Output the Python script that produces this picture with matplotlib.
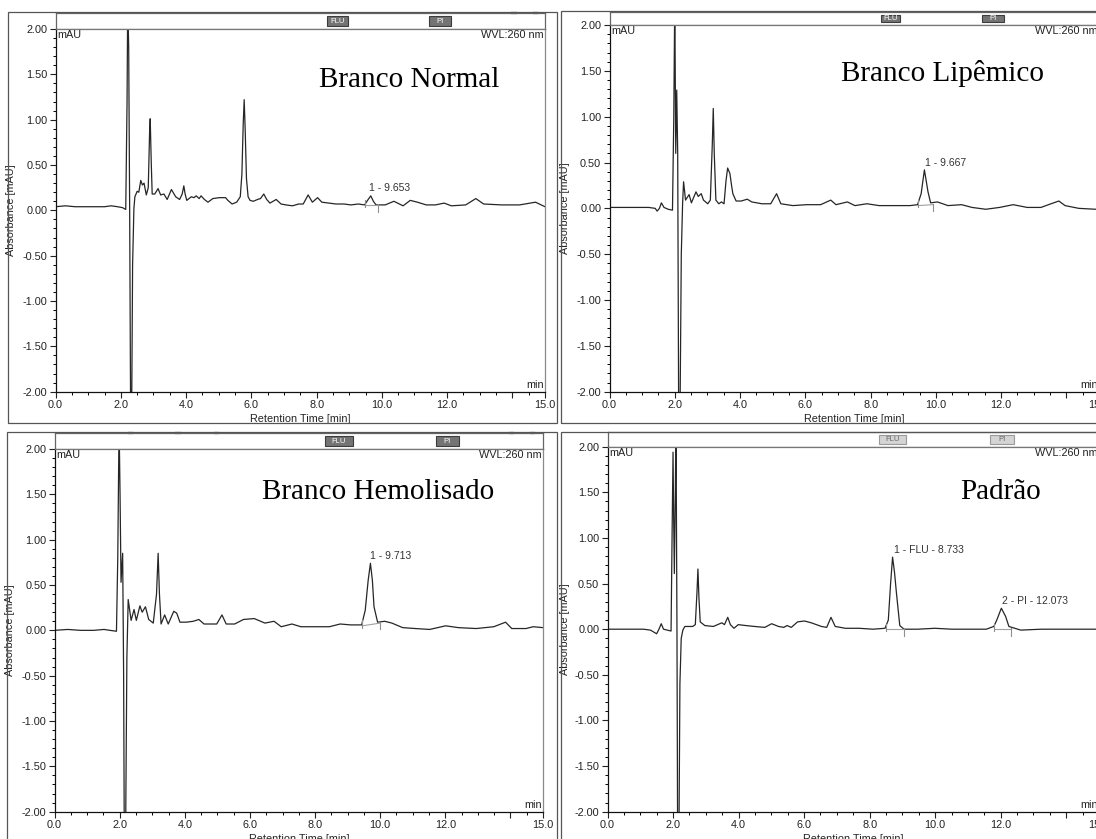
import matplotlib
matplotlib.use("Agg")
import matplotlib.pyplot as plt
from matplotlib.patches import Rectangle
from matplotlib.ticker import MultipleLocator, FormatStrFormatter

plt.rcParams['axes.unicode_minus'] = False
SANS = ['Liberation Sans Narrow', 'Liberation Sans', 'DejaVu Sans']
SERIF = ['Liberation Serif', 'DejaVu Serif']

W, H = 1096, 839

# ---- data (time [min], absorbance [mAU]) ----
t_normal = [0.0, 0.3, 0.6, 0.9, 1.2, 1.5, 1.7, 1.9, 2.05, 2.15, 2.19, 2.21, 2.24, 2.27, 2.30, 2.33, 2.36,
            2.40, 2.43, 2.50, 2.55, 2.61, 2.66, 2.71, 2.78, 2.84, 2.88, 2.90, 2.93, 2.96, 3.04, 3.14,
            3.22, 3.32, 3.42, 3.55, 3.68, 3.80, 3.88, 3.93, 3.97, 4.02, 4.16, 4.24, 4.31, 4.40, 4.46,
            4.56, 4.67, 4.82, 5.02, 5.21, 5.28, 5.41, 5.55, 5.66, 5.71, 5.75, 5.78, 5.81, 5.85, 5.90,
            5.96, 6.06, 6.19, 6.28, 6.38, 6.47, 6.57, 6.76, 6.91, 7.06, 7.26, 7.45, 7.59, 7.74, 7.87,
            8.03, 8.16, 8.38, 8.59, 8.84, 9.05, 9.28, 9.47, 9.58, 9.66, 9.74, 9.82, 10.1, 10.37, 10.65,
            10.87, 11.09, 11.36, 11.64, 11.91, 12.13, 12.57, 12.88, 13.12, 13.67, 14.22, 14.71, 15.0]
a_normal = [0.04, 0.05, 0.04, 0.04, 0.04, 0.04, 0.05, 0.04, 0.03, 0.01, 1.2, 2.3, 1.8, 0.0, -2.3, -2.3, -0.6,
            0.02, 0.15, 0.21, 0.20, 0.33, 0.28, 0.30, 0.17, 0.25, 0.85, 1.01, 0.55, 0.18, 0.18, 0.24,
            0.17, 0.18, 0.12, 0.23, 0.15, 0.12, 0.18, 0.27, 0.18, 0.11, 0.15, 0.14, 0.16, 0.13, 0.16,
            0.12, 0.09, 0.13, 0.14, 0.14, 0.11, 0.07, 0.09, 0.15, 0.40, 0.95, 1.22, 0.90, 0.35, 0.15,
            0.11, 0.10, 0.12, 0.13, 0.18, 0.12, 0.08, 0.12, 0.07, 0.06, 0.05, 0.07, 0.07, 0.17, 0.09,
            0.14, 0.09, 0.08, 0.07, 0.07, 0.06, 0.07, 0.06, 0.12, 0.16, 0.10, 0.06, 0.06, 0.10, 0.05,
            0.11, 0.09, 0.06, 0.06, 0.08, 0.05, 0.06, 0.13, 0.07, 0.06, 0.06, 0.09, 0.04]

t_lipemico = [0.0, 0.4, 0.8, 1.2, 1.40, 1.46, 1.53, 1.59, 1.67, 1.80, 1.93, 1.97, 2.00, 2.03, 2.06, 2.09,
              2.12, 2.16, 2.20, 2.24, 2.27, 2.33, 2.44, 2.51, 2.65, 2.72, 2.81, 2.88, 3.01, 3.09, 3.15,
              3.18, 3.21, 3.26, 3.35, 3.43, 3.51, 3.57, 3.62, 3.69, 3.74, 3.78, 3.88, 4.04, 4.22, 4.36,
              4.67, 4.94, 5.12, 5.25, 5.62, 6.04, 6.47, 6.78, 6.94, 7.29, 7.52, 7.89, 8.26, 8.79, 9.21,
              9.44, 9.55, 9.65, 9.76, 9.84, 10.05, 10.37, 10.79, 11.11, 11.53, 11.95, 12.37, 12.80,
              13.22, 13.53, 13.77, 13.96, 14.38, 14.9, 15.0]
a_lipemico = [0.01, 0.01, 0.01, 0.01, 0.00, -0.03, 0.00, 0.06, 0.01, -0.01, -0.02, 1.0, 2.3, 0.60, 1.29, 0.6,
              -2.3, -2.3, -0.5, 0.05, 0.29, 0.09, 0.15, 0.06, 0.18, 0.13, 0.16, 0.09, 0.05, 0.09, 0.7,
              1.09, 0.6, 0.09, 0.05, 0.07, 0.05, 0.30, 0.44, 0.38, 0.25, 0.16, 0.08, 0.08, 0.10, 0.07,
              0.05, 0.05, 0.16, 0.05, 0.03, 0.04, 0.04, 0.09, 0.04, 0.07, 0.03, 0.05, 0.03, 0.03, 0.03,
              0.04, 0.16, 0.42, 0.18, 0.06, 0.07, 0.03, 0.04, 0.01, -0.01, 0.01, 0.04, 0.01,
              0.01, 0.05, 0.08, 0.03, 0.00, -0.01, 0.00]

t_hemo = [0.0, 0.4, 0.8, 1.2, 1.52, 1.70, 1.90, 1.94, 1.98, 2.01, 2.04, 2.09, 2.12, 2.14, 2.18, 2.22, 2.26,
          2.35, 2.44, 2.51, 2.62, 2.69, 2.79, 2.89, 3.03, 3.13, 3.18, 3.22, 3.27, 3.38, 3.49, 3.66, 3.75,
          3.85, 4.04, 4.26, 4.43, 4.59, 4.98, 5.14, 5.27, 5.53, 5.80, 6.13, 6.46, 6.74, 6.96, 7.29, 7.56,
          8.00, 8.44, 8.77, 9.10, 9.43, 9.54, 9.63, 9.70, 9.76, 9.81, 9.92, 10.14, 10.36, 10.69, 11.08,
          11.52, 12.01, 12.40, 12.95, 13.49, 13.85, 14.04, 14.48, 14.70, 15.0]
a_hemo = [0.00, 0.01, 0.00, 0.00, 0.01, 0.00, -0.01, 0.8, 2.3, 1.5, 0.53, 0.85, -0.5, -2.3, -2.3, -0.3, 0.34,
          0.11, 0.23, 0.11, 0.27, 0.20, 0.26, 0.12, 0.08, 0.40, 0.85, 0.40, 0.07, 0.17, 0.07, 0.21, 0.19,
          0.09, 0.09, 0.10, 0.12, 0.07, 0.07, 0.17, 0.07, 0.07, 0.12, 0.13, 0.08, 0.10, 0.04, 0.07, 0.04,
          0.04, 0.04, 0.07, 0.06, 0.06, 0.22, 0.55, 0.74, 0.55, 0.26, 0.09, 0.10, 0.08, 0.03, 0.02,
          0.01, 0.05, 0.03, 0.02, 0.04, 0.09, 0.02, 0.02, 0.04, 0.03]

t_padrao = [0.0, 0.4, 0.8, 1.1, 1.31, 1.50, 1.57, 1.64, 1.71, 1.94, 1.97, 2.00, 2.02, 2.04, 2.07, 2.09, 2.12,
            2.14, 2.18, 2.21, 2.25, 2.30, 2.36, 2.46, 2.60, 2.68, 2.73, 2.76, 2.79, 2.83, 2.97, 3.23, 3.49,
            3.57, 3.67, 3.75, 3.86, 3.99, 4.22, 4.49, 4.80, 5.01, 5.22, 5.38, 5.48, 5.61, 5.80, 6.01, 6.22,
            6.53, 6.69, 6.82, 6.95, 7.26, 7.68, 8.10, 8.47, 8.57, 8.64, 8.70, 8.76, 8.82, 8.92, 9.05, 9.47,
            9.99, 10.51, 11.14, 11.56, 11.79, 11.88, 12.02, 12.15, 12.25, 12.61, 13.24, 13.87, 14.50, 15.0]
a_padrao = [0.00, 0.00, 0.00, 0.00, -0.01, -0.05, 0.00, 0.06, 0.00, -0.02, 1.0, 1.94, 1.2, 0.61, 1.5, 2.3, 0.0,
            -2.3, -2.3, -0.6, -0.10, -0.01, 0.03, 0.03, 0.03, 0.05, 0.40, 0.66, 0.35, 0.08, 0.04, 0.03, 0.07,
            0.05, 0.13, 0.05, 0.01, 0.05, 0.04, 0.03, 0.02, 0.06, 0.03, 0.02, 0.04, 0.02, 0.08, 0.09, 0.07,
            0.03, 0.02, 0.13, 0.03, 0.01, 0.01, 0.00, 0.01, 0.10, 0.50, 0.79, 0.62, 0.39, 0.04, 0.00, 0.00,
            0.01, 0.00, 0.00, 0.00, 0.03, 0.10, 0.23, 0.14, 0.03, -0.01, 0.00, 0.00, 0.00, 0.00]

titles = ["Branco Normal", "Branco Lipêmico", "Branco Hemolisado", "Padrão"]

# peak labels: (text, x, y) and integration baselines (x0, y0, x1, y1)
labels_normal = [("1 - 9.653", 9.62, 0.19)]
bases_normal = [(9.47, 0.055, 9.88, 0.055)]
labels_lipemico = [("1 - 9.667", 9.66, 0.44)]
bases_lipemico = [(9.45, 0.03, 9.90, 0.04)]
labels_hemo = [("1 - 9.713", 9.70, 0.77)]
bases_hemo = [(9.45, 0.05, 10.0, 0.08)]
labels_padrao = [("1 - FLU - 8.733", 8.73, 0.81), ("2 - PI - 12.073", 12.05, 0.25)]
bases_padrao = [(8.50, 0.0, 9.05, 0.0), (11.80, 0.0, 12.30, 0.0)]

# retention windows shown in the top strip
win_normal = [("FLU", 8.31, 8.95), ("PI", 11.44, 12.11)]
win_lipemico = [("FLU", 8.31, 8.91), ("PI", 11.42, 12.09)]
win_hemo = [("FLU", 8.31, 9.15), ("PI", 11.70, 12.42)]
win_padrao = [("FLU", 8.29, 9.12), ("PI", 11.67, 12.40)]

# small dark marks on top of some strips
marks_normal = [14.05, 14.70]
marks_hemo = [2.34, 3.79, 4.97, 14.04, 14.68]

fig = plt.figure(figsize=(W / 100, H / 100), dpi=100)


def fx(px):
    return px / W


def fy(py):
    return 1 - py / H


def panel(box, strip_top, frame, t, a, title, title_pos, labels, bases, wins, marks=(), light=False):
    left, right, top, bottom = box
    # outer frame
    x0, y0, x1, y1 = frame
    fig.add_artist(Rectangle((fx(x0), fy(y1)), fx(x1 - x0), (y1 - y0) / H, transform=fig.transFigure,
                             fill=False, edgecolor='#555555', lw=0.9))

    # strip with the retention windows
    st = fig.add_axes([fx(left), fy(top), fx(right - left), (top - strip_top) / H])
    st.set_xlim(0, 15)
    st.set_ylim(0, 1)
    st.set_xticks([])
    st.set_yticks([])
    for s in st.spines.values():
        s.set_color('#666666')
        s.set_linewidth(0.9)
    for name, w0, w1 in wins:
        fc, ec, tc = ('#d4d4d4', '#999999', '#666666') if light else ('#747474', '#3c3c3c', 'white')
        st.add_patch(Rectangle((w0, 0.2), w1 - w0, 0.58, facecolor=fc, edgecolor=ec, lw=0.8))
        st.text((w0 + w1) / 2, 0.48, name, ha='center', va='center', fontsize=5.5, color=tc, family=SANS)
    for m in marks:
        st.plot([m - 0.08, m + 0.08], [0.97, 0.97], color='#222222', lw=1.6, clip_on=False,
                solid_capstyle='butt')

    ax = fig.add_axes([fx(left), fy(bottom), fx(right - left), (bottom - top) / H])
    ax.plot(t, a, color='#262626', lw=0.9)
    for b in bases:
        ax.plot([b[0], b[2]], [b[1], b[3]], color='#a0a0a0', lw=0.8)
        ax.plot([b[0], b[0]], [b[1] - 0.02, b[1] + 0.06], color='#909090', lw=0.8)
        ax.plot([b[2], b[2]], [b[3] - 0.07, b[3] + 0.01], color='#909090', lw=0.8)
    for txt, x, y in labels:
        ax.text(x, y, txt, ha='left', va='bottom', fontsize=7.5, color='#333333', family=SANS)

    ax.set_xlim(0, 15)
    ax.set_ylim(-2, 2)
    ax.set_xticks([0, 2, 4, 6, 8, 10, 12, 14, 15])
    ax.set_xticklabels(['0.0', '2.0', '4.0', '6.0', '8.0', '10.0', '12.0', '', '15.0'])
    ax.xaxis.set_minor_locator(MultipleLocator(0.5))
    ax.yaxis.set_major_locator(MultipleLocator(0.5))
    ax.yaxis.set_minor_locator(MultipleLocator(0.1))
    ax.yaxis.set_major_formatter(FormatStrFormatter('%.2f'))
    ax.tick_params(which='major', direction='out', length=4, width=0.8, pad=2, labelsize=7.8,
                   colors='#222222')
    ax.tick_params(which='minor', direction='out', length=2.5, width=0.7)
    for lab in ax.get_xticklabels() + ax.get_yticklabels():
        lab.set_family(SANS)
    ax.spines['left'].set_color('#111111')
    ax.spines['bottom'].set_color('#111111')
    ax.spines['top'].set_color('#777777')
    ax.spines['right'].set_color('#8a8a8a')
    for s in ax.spines.values():
        s.set_linewidth(0.9)

    ax.set_xlabel('Retention Time [min]', fontsize=7.8, family=SANS, color='#222222')
    ax.set_ylabel('Absorbance [mAU]', fontsize=7.8, family=SANS, color='#222222')
    ax.xaxis.set_label_coords(0.5, -0.062)
    # y label sits about 8 px inside the outer frame
    ax.yaxis.set_label_coords((x0 + 8.5 - left) / (right - left), 0.5)

    ax.text(0.004, 0.997, 'mAU', transform=ax.transAxes, ha='left', va='top', fontsize=7.8,
            family=SANS, color='#222222')
    ax.text(0.998, 0.997, 'WVL:260 nm', transform=ax.transAxes, ha='right', va='top', fontsize=7.8,
            family=SANS, color='#222222')
    ax.text(0.998, 0.004, 'min', transform=ax.transAxes, ha='right', va='bottom', fontsize=7.8,
            family=SANS, color='#222222')

    fig.text(fx(title_pos[0]), fy(title_pos[1]), title, ha='left', va='baseline', fontsize=21,
             family=SERIF, color='black')
    return ax


panel((55.6, 545, 29, 391.7), 12.7, (8, 12, 556.5, 422.7), t_normal, a_normal, titles[0], (318.7, 87),
      labels_normal, bases_normal, win_normal, marks_normal)
panel((609.5, 1099, 25, 391.7), 11.7, (561, 11, 1102, 422.7), t_lipemico, a_lipemico, titles[1], (841, 81),
      labels_lipemico, bases_lipemico, win_lipemico)
panel((54.6, 543, 449, 811.7), 432.7, (7, 431.7, 556.5, 845), t_hemo, a_hemo, titles[2], (262, 499),
      labels_hemo, bases_hemo, win_hemo, marks_hemo)
panel((607.5, 1099, 446.7, 811.7), 431.7, (561, 431.7, 1102, 845), t_padrao, a_padrao, titles[3], (960, 499),
      labels_padrao, bases_padrao, win_padrao, light=True)

fig.savefig('out.png', dpi=100, facecolor='white')
